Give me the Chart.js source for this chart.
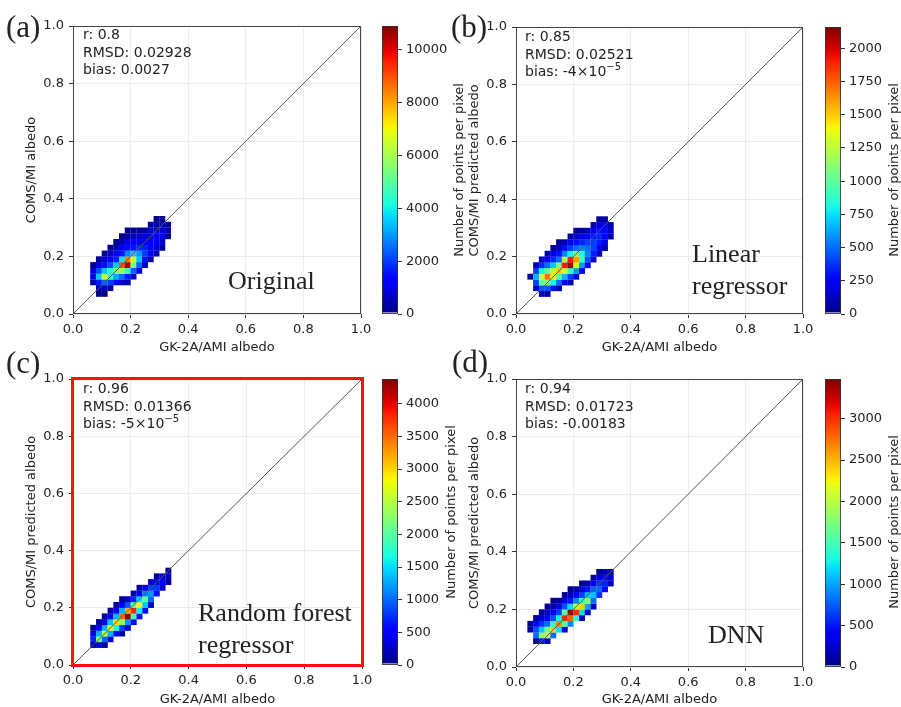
<!DOCTYPE html>
<html>
<head>
<meta charset="utf-8">
<script src="https://cdn.jsdelivr.net/npm/chart.js@4.4.0/dist/chart.umd.min.js"></script>
<style>
  body { margin: 0; background: #fff; }
  #fig { position: relative; width: 901px; height: 707px; overflow: hidden; font-family: 'DejaVu Sans', sans-serif; color: #222; }
  #fig canvas { position: absolute; }
  .lbl { position: absolute; white-space: nowrap; }
  .letter { font-family: 'Liberation Serif', 'Times New Roman', serif; font-size: 31px; line-height: 31px; }
  .method { font-family: 'Liberation Serif', 'Times New Roman', serif; font-size: 26px; line-height: 32px; }
  .stats { font-size: 14px; line-height: 17.5px; }
  .stats sup { font-size: 10px; line-height: 0; vertical-align: 0; position: relative; top: -6px; }
  .rot { font-size: 13px; transform: translate(-50%, -50%) rotate(-90deg); }
</style>
</head>
<body>
<div id="fig"></div>
<script>
// axis ticks (both axes, all panels)
const tickValues = [0, 0.2, 0.4, 0.6, 0.8, 1.0];
const refLine = [0, 1];

// colour bar ticks and ranges
const cbTicksA = [0, 2000, 4000, 6000, 8000, 10000];
const cbTicksB = [0, 250, 500, 750, 1000, 1250, 1500, 1750, 2000];
const cbTicksC = [0, 500, 1000, 1500, 2000, 2500, 3000, 3500, 4000];
const cbTicksD = [0, 500, 1000, 1500, 2000, 2500, 3000];
const cbMax = [10900, 2160, 4380, 3480];

// density cells, 0.02 wide: [x centre, lowest y centre, counts going up]
const binSize = 0.02;
const cellsA = [
    [0.07, 0.11, [400, 1300, 900, 200]],
    [0.09, 0.07, [60, 500, 1600, 3500, 2200, 900, 250]],
    [0.11, 0.07, [60, 500, 2500, 6500, 3500, 1500, 700, 200]],
    [0.13, 0.09, [300, 2000, 4500, 4200, 2200, 1200, 600, 150]],
    [0.15, 0.11, [1400, 3200, 5500, 3500, 1700, 1100, 500, 120]],
    [0.17, 0.11, [800, 2500, 6000, 9000, 3800, 1600, 1100, 500, 120]],
    [0.19, 0.11, [400, 1600, 4500, 10500, 8500, 2800, 1400, 1000, 400, 100]],
    [0.21, 0.13, [800, 2400, 5500, 6500, 3500, 1600, 1100, 600, 200]],
    [0.23, 0.15, [1000, 2400, 3500, 3000, 1800, 1200, 700, 250]],
    [0.25, 0.17, [700, 1500, 2000, 1700, 1300, 900, 300]],
    [0.27, 0.19, [500, 1100, 1300, 1300, 1100, 700, 250]],
    [0.29, 0.21, [400, 900, 1200, 1200, 1000, 500, 120]],
    [0.31, 0.23, [250, 700, 1000, 900, 600, 150]],
    [0.33, 0.27, [250, 450, 300]]
];
const cellsB = [
    [0.05, 0.13, [60]],
    [0.07, 0.09, [120, 400, 650, 400, 120]],
    [0.09, 0.07, [100, 450, 1000, 1300, 800, 350, 100]],
    [0.11, 0.07, [80, 450, 1100, 1700, 1000, 500, 250, 80]],
    [0.13, 0.09, [300, 800, 1400, 1300, 700, 350, 200, 60]],
    [0.15, 0.09, [100, 500, 1000, 1500, 1100, 500, 300, 120, 40]],
    [0.17, 0.11, [250, 650, 1300, 1900, 1200, 550, 300, 120]],
    [0.19, 0.11, [100, 400, 900, 2100, 1900, 800, 400, 200, 60]],
    [0.21, 0.13, [200, 600, 1300, 1600, 1100, 500, 300, 150, 40]],
    [0.23, 0.15, [250, 600, 900, 850, 550, 350, 200, 60]],
    [0.25, 0.17, [250, 450, 550, 500, 400, 250, 100]],
    [0.27, 0.19, [180, 320, 400, 400, 320, 200, 70]],
    [0.29, 0.21, [120, 250, 320, 350, 300, 180, 50]],
    [0.31, 0.23, [80, 200, 280, 280, 200, 70]],
    [0.33, 0.27, [100, 150, 100]]
];
const cellsC = [
    [0.07, 0.07, [150, 700, 450, 80]],
    [0.09, 0.07, [300, 2200, 1300, 500, 80]],
    [0.11, 0.07, [80, 1000, 2500, 1300, 500, 100]],
    [0.13, 0.09, [300, 1300, 2700, 1400, 500, 120]],
    [0.15, 0.11, [500, 1700, 3000, 1300, 450, 80]],
    [0.17, 0.11, [100, 800, 2300, 3500, 1300, 450, 80]],
    [0.19, 0.13, [300, 1200, 4300, 3200, 900, 300]],
    [0.21, 0.15, [500, 1900, 3800, 2100, 700, 150]],
    [0.23, 0.17, [600, 1600, 2800, 1500, 500, 100]],
    [0.25, 0.19, [600, 1400, 2000, 1100, 350]],
    [0.27, 0.21, [300, 1000, 1200, 800, 250]],
    [0.29, 0.25, [600, 800, 550, 120]],
    [0.31, 0.27, [300, 500, 350]],
    [0.33, 0.29, [100, 250, 100]]
];
const cellsD = [
    [0.05, 0.13, [80, 60]],
    [0.07, 0.09, [80, 800, 700, 400, 120]],
    [0.09, 0.09, [500, 1800, 1100, 600, 250, 60]],
    [0.11, 0.09, [200, 2000, 1700, 800, 450, 200, 60]],
    [0.13, 0.11, [800, 2400, 1400, 700, 350, 150, 40]],
    [0.15, 0.13, [1200, 2700, 1300, 650, 300, 100]],
    [0.17, 0.13, [350, 1600, 3000, 1600, 700, 300, 80]],
    [0.19, 0.15, [900, 2800, 3400, 1200, 500, 200, 50]],
    [0.21, 0.17, [1400, 3000, 2000, 900, 350, 120]],
    [0.23, 0.17, [200, 1200, 2400, 1400, 650, 250, 60]],
    [0.25, 0.19, [250, 1000, 1800, 1100, 500, 150]],
    [0.27, 0.21, [200, 800, 1100, 800, 350, 100]],
    [0.29, 0.25, [600, 800, 600, 300, 60]],
    [0.31, 0.27, [450, 550, 450, 150]],
    [0.33, 0.29, [200, 280, 120]]
];

// jet colour map
const jetR = [[0, 0], [0.35, 0], [0.66, 1], [0.89, 1], [1, 0.5]];
const jetG = [[0, 0], [0.125, 0], [0.375, 1], [0.64, 1], [0.91, 0], [1, 0]];
const jetB = [[0, 0.5], [0.11, 1], [0.34, 1], [0.65, 0], [1, 0]];
function seg(s, t) {
    for (let i = 1; i < s.length; i++) {
        if (t <= s[i][0]) {
            const f = (t - s[i - 1][0]) / (s[i][0] - s[i - 1][0]);
            return s[i - 1][1] + f * (s[i][1] - s[i - 1][1]);
        }
    }
    return s[s.length - 1][1];
}
function jet(t) {
    t = Math.max(0, Math.min(1, t));
    return 'rgb(' + Math.round(seg(jetR, t) * 255) + ',' + Math.round(seg(jetG, t) * 255) + ',' + Math.round(seg(jetB, t) * 255) + ')';
}

function toPoints(cells) {
    const pts = [];
    cells.forEach(([x, y0, counts]) => {
        counts.forEach((v, k) => pts.push({x: x, y: +(y0 + k * binSize).toFixed(3), v: v}));
    });
    return pts;
}

const fig = document.getElementById('fig');
function makeCanvas(left, top, w, h) {
    const c = document.createElement('canvas');
    c.width = w; c.height = h;
    c.style.left = left + 'px'; c.style.top = top + 'px';
    c.style.width = w + 'px'; c.style.height = h + 'px';
    fig.appendChild(c);
    return c;
}
function addLabel(cls, left, top, html) {
    const d = document.createElement('div');
    d.className = 'lbl ' + cls;
    d.style.left = left + 'px'; d.style.top = top + 'px';
    d.innerHTML = html;
    fig.appendChild(d);
}

const tickFont = {family: 'DejaVu Sans', size: 13};
const inkColor = '#222';

const framePlugin = {
    id: 'frame',
    afterDraw(chart, args, opts) {
        const {ctx, chartArea: a} = chart;
        ctx.save();
        ctx.strokeStyle = '#444';
        ctx.lineWidth = 1;
        ctx.strokeRect(a.left + 0.5, a.top + 0.5, a.right - a.left - 1, a.bottom - a.top - 1);
        if (opts.highlight) {
            ctx.strokeStyle = '#ff1010';
            ctx.lineWidth = 3;
            ctx.strokeRect(a.left - 0.5, a.top - 0.5, a.right - a.left + 1, a.bottom - a.top + 1);
        }
        ctx.restore();
    }
};

const gradientPlugin = {
    id: 'cbar',
    beforeDraw(chart) {
        const {ctx, chartArea: a} = chart;
        const g = ctx.createLinearGradient(0, a.bottom, 0, a.top);
        for (let i = 0; i <= 50; i++) g.addColorStop(i / 50, jet(i / 50));
        ctx.save();
        ctx.fillStyle = g;
        ctx.fillRect(a.left, a.top, a.right - a.left, a.bottom - a.top);
        ctx.fillStyle = '#8a8fc8';
        ctx.fillRect(a.left, a.bottom - 2, a.right - a.left, 2);
        ctx.strokeStyle = '#333';
        ctx.lineWidth = 0.8;
        ctx.strokeRect(a.left + 0.4, a.top + 0.4, a.right - a.left - 0.8, a.bottom - a.top - 0.8);
        ctx.restore();
    }
};

function densityPanel(p) {
    const canvas = makeCanvas(p.left, p.top, p.w, p.h);
    const max = p.max;
    new Chart(canvas, {
        type: 'scatter',
        data: {
            datasets: [{
                type: 'line',
                data: refLine.map(v => ({x: v, y: v})),
                borderColor: '#555',
                borderWidth: 1,
                pointRadius: 0,
                order: 0
            }, {
                data: toPoints(p.cells),
                pointStyle: 'rect',
                pointRadius: 4.2,
                pointBorderWidth: 0,
                pointBackgroundColor: ctx => jet(ctx.raw.v / max),
                order: 1
            }]
        },
        options: {
            responsive: false,
            animation: false,
            events: [],
            layout: {padding: p.pad},
            plugins: {
                legend: {display: false},
                tooltip: {enabled: false},
                frame: {highlight: !!p.highlight}
            },
            scales: {
                x: {
                    type: 'linear', min: 0, max: 1,
                    afterBuildTicks: a => { a.ticks = tickValues.map(v => ({value: v})); },
                    afterFit: a => { a.height = p.xh; },
                    ticks: {callback: v => v.toFixed(1), font: tickFont, color: inkColor, padding: 4, maxRotation: 0},
                    grid: {color: '#ececec', tickColor: '#333', tickLength: 4},
                    border: {display: false},
                    title: {display: true, text: 'GK-2A/AMI albedo', font: tickFont, color: inkColor, padding: 0}
                },
                y: {
                    type: 'linear', min: 0, max: 1,
                    afterBuildTicks: a => { a.ticks = tickValues.map(v => ({value: v})); },
                    afterFit: a => { a.width = 49; },
                    ticks: {callback: v => v.toFixed(1), font: tickFont, color: inkColor, padding: 5},
                    grid: {color: '#ececec', tickColor: '#333', tickLength: 4},
                    border: {display: false},
                    title: {display: true, text: p.ytitle, font: tickFont, color: inkColor, padding: 0}
                }
            }
        },
        plugins: [framePlugin]
    });
}

function colorBar(c) {
    const canvas = makeCanvas(c.left, c.top, 71, 330);
    new Chart(canvas, {
        type: 'scatter',
        data: {datasets: []},
        options: {
            responsive: false,
            animation: false,
            events: [],
            layout: {padding: {left: 0, right: 0, top: c.pt, bottom: c.pb}},
            plugins: {legend: {display: false}, tooltip: {enabled: false}},
            scales: {
                x: {display: false, min: 0, max: 1},
                y: {
                    position: 'right', min: 0, max: c.max,
                    afterBuildTicks: a => { a.ticks = c.ticks.map(v => ({value: v})); },
                    afterFit: a => { a.width = 55; },
                    ticks: {callback: v => String(v), font: tickFont, color: inkColor, padding: 4},
                    grid: {drawOnChartArea: false, tickColor: '#333', tickLength: 4},
                    border: {display: false}
                }
            }
        },
        plugins: [gradientPlugin]
    });
}

// (a) Original
densityPanel({left: 0, top: 0, w: 378, h: 360, pad: {left: 24, top: 26, right: 17, bottom: 5}, xh: 41,
    cells: cellsA, max: cbMax[0], ytitle: 'COMS/MI albedo'});
colorBar({left: 382, top: 0, pt: 26, pb: 16, max: cbMax[0], ticks: cbTicksA});
// (b) Linear regressor
densityPanel({left: 460, top: 0, w: 360, h: 360, pad: {left: 7, top: 27, right: 17, bottom: 5}, xh: 41,
    cells: cellsB, max: cbMax[1], ytitle: 'COMS/MI predicted albedo'});
colorBar({left: 825, top: 0, pt: 27, pb: 16, max: cbMax[1], ticks: cbTicksB});
// (c) Random forest regressor
densityPanel({left: 0, top: 350, w: 378, h: 357, pad: {left: 24, top: 29, right: 16, bottom: 0}, xh: 42,
    cells: cellsC, max: cbMax[2], ytitle: 'COMS/MI predicted albedo', highlight: true});
colorBar({left: 382, top: 350, pt: 29, pb: 15, max: cbMax[2], ticks: cbTicksC});
// (d) DNN
densityPanel({left: 460, top: 350, w: 360, h: 357, pad: {left: 7, top: 29, right: 17, bottom: 0}, xh: 40,
    cells: cellsD, max: cbMax[3], ytitle: 'COMS/MI predicted albedo'});
colorBar({left: 825, top: 350, pt: 29, pb: 13, max: cbMax[3], ticks: cbTicksD});

// colour bar titles
addLabel('rot', 458, 170, 'Number of points per pixel');
addLabel('rot', 893, 170, 'Number of points per pixel');
addLabel('rot', 450, 512, 'Number of points per pixel');
addLabel('rot', 893, 522, 'Number of points per pixel');

// panel letters
addLabel('letter', 6, 11, '(a)');
addLabel('letter', 451, 11, '(b)');
addLabel('letter', 6, 347, '(c)');
addLabel('letter', 452, 346, '(d)');

// statistics
addLabel('stats', 83, 26, 'r: 0.8<br>RMSD: 0.02928<br>bias: 0.0027');
addLabel('stats', 525, 28, 'r: 0.85<br>RMSD: 0.02521<br>bias: -4×10<sup>−5</sup>');
addLabel('stats', 83, 380, 'r: 0.96<br>RMSD: 0.01366<br>bias: -5×10<sup>−5</sup>');
addLabel('stats', 525, 380, 'r: 0.94<br>RMSD: 0.01723<br>bias: -0.00183');

// method names
addLabel('method', 228, 265, 'Original');
addLabel('method', 692, 238, 'Linear<br>regressor');
addLabel('method', 198, 597, 'Random forest<br>regressor');
addLabel('method', 708, 619, 'DNN');
</script>
</body>
</html>
